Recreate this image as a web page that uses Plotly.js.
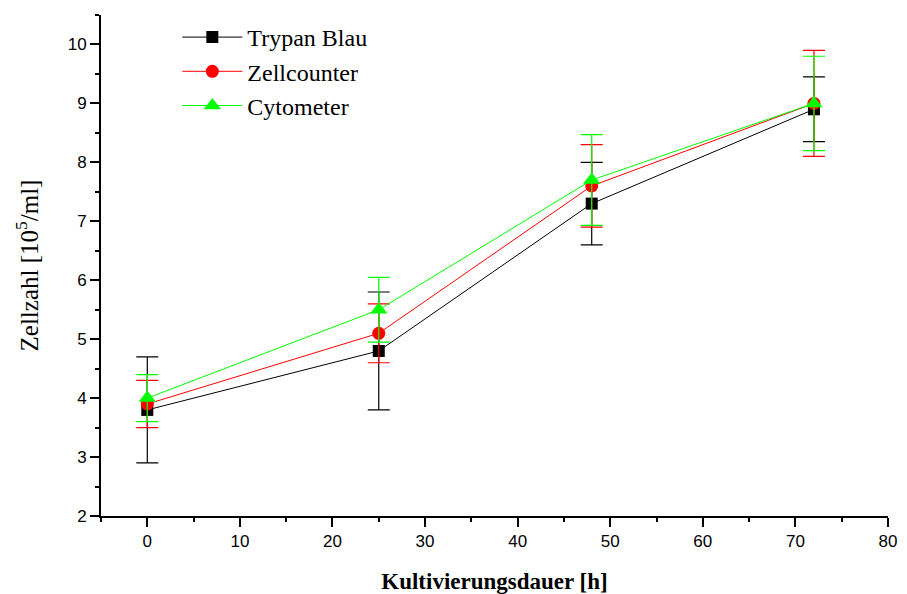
<!DOCTYPE html>
<html><head><meta charset="utf-8">
<script src="https://cdn.plot.ly/plotly-3.0.1.min.js"></script>
<style>body{margin:0;background:#fff}#c{width:907px;height:594px}</style>
</head><body><div id="c"></div>
<script>
const hours = [0, 25, 48, 72];
const trypanBlau = [3.8, 4.8, 7.3, 8.9];
const trypanErr = [0.9, 1.0, 0.7, 0.55];
const zellcounter = [3.9, 5.1, 7.6, 9.0];
const zellErr = [0.4, 0.5, 0.7, 0.9];
const cytometer = [4.0, 5.5, 7.7, 9.0];
const cytoErr = [0.4, 0.55, 0.77, 0.8];
const seriesNames = ['Trypan Blau', 'Zellcounter', 'Cytometer'];

function tr(name, y, err, color, symbol, size) {
  return {
    x: hours, y: y, name: name, legendgroup: name, type: 'scatter', mode: 'lines+markers',
    line: {color: color, width: 1},
    marker: {color: color, symbol: symbol, size: size},
    error_y: {type: 'data', array: err, visible: true, color: color, thickness: 1.2, width: 11}
  };
}
const data = [
  tr(seriesNames[0], trypanBlau, trypanErr, '#000000', 'square', 12),
  tr(seriesNames[1], zellcounter, zellErr, '#ff0000', 'circle', 13),
  tr(seriesNames[2], cytometer, cytoErr, '#00ff00', 'triangle-up', 15)
];
const layout = {
  width: 907, height: 594,
  margin: {l: 101, r: 19, t: 15, b: 78},
  paper_bgcolor: '#fff', plot_bgcolor: '#fff',
  showlegend: true,
  legend: {x: 0.097, y: 1.0, xanchor: 'left', yanchor: 'top', bgcolor: 'rgba(0,0,0,0)',
    font: {family: 'Liberation Serif', size: 24, color: '#000'}, itemwidth: 60,
    traceorder: 'grouped', tracegroupgap: 0},
  xaxis: {
    range: [-5, 80], showgrid: false, zeroline: false, showline: true, linecolor: '#000', linewidth: 2,
    ticks: 'outside', ticklen: 9, tickwidth: 2, tickcolor: '#000', dtick: 10, tick0: 0,
    minor: {ticks: 'outside', ticklen: 4, tickwidth: 2, tickcolor: '#000', dtick: 5, tick0: 0},
    tickfont: {family: 'Liberation Sans', size: 17, color: '#000'},
    title: {text: '<b>Kultivierungsdauer [h]</b>', font: {family: 'Liberation Serif', size: 23, color: '#000'}, standoff: 22}
  },
  yaxis: {
    range: [2, 10.5], showgrid: false, zeroline: false, showline: true, linecolor: '#000', linewidth: 2,
    ticks: 'outside', ticklen: 9, tickwidth: 2, tickcolor: '#000', dtick: 1, tick0: 0,
    minor: {ticks: 'outside', ticklen: 4, tickwidth: 2, tickcolor: '#000', dtick: 0.5, tick0: 0},
    tickfont: {family: 'Liberation Sans', size: 17, color: '#000'},
    title: {text: 'Zellzahl [10<sup>5</sup>/ml]', font: {family: 'Liberation Serif', size: 25, color: '#000'}, standoff: 22}
  }
};
Plotly.newPlot('c', data, layout, {displayModeBar: false});
</script></body></html>
